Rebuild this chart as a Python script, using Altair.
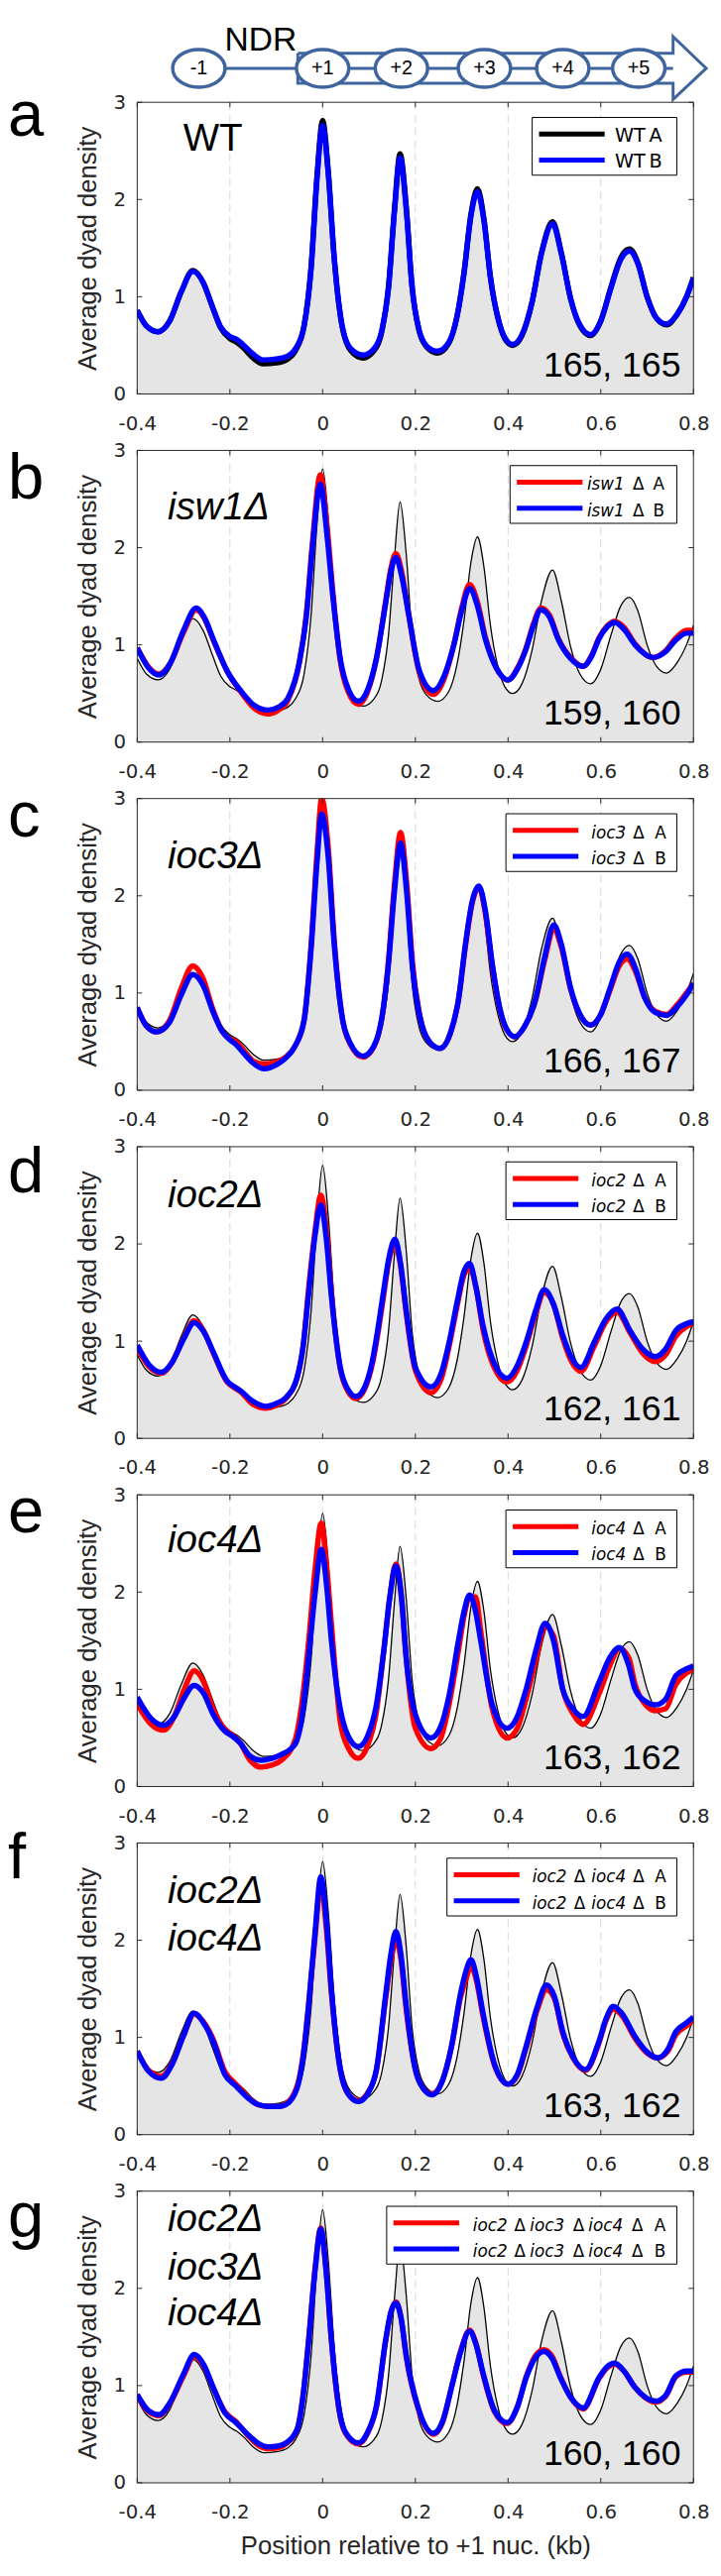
import altair as alt
import pandas as pd

# ---------------- data ----------------
X_TICKS = [-0.4, -0.2, 0, 0.2, 0.4, 0.6, 0.8]
Y_TICKS = [0, 1, 2, 3]
GRID_X = [-0.2, 0, 0.2, 0.4, 0.6]

NUC_LABELS = ["-1", "+1", "+2", "+3", "+4", "+5"]
NUC_POS = [-0.267, 0.0, 0.170, 0.349, 0.518, 0.682]

WT_X = [-0.400, -0.380, -0.355, -0.330, -0.305, -0.280, -0.258, -0.238, -0.220, -0.200,
        -0.185, -0.170, -0.150, -0.128, -0.100, -0.075, -0.058, -0.040, -0.025, -0.012,
        0.000, 0.012, 0.025, 0.040, 0.060, 0.087, 0.110, 0.128, 0.142, 0.155,
        0.167, 0.180, 0.193, 0.208, 0.225, 0.248, 0.272, 0.290, 0.305, 0.320,
        0.334, 0.348, 0.362, 0.378, 0.393, 0.410, 0.430, 0.452, 0.472, 0.496,
        0.515, 0.535, 0.555, 0.578, 0.600, 0.622, 0.643, 0.662, 0.680, 0.700,
        0.720, 0.742, 0.765, 0.785, 0.800]
WT_A = [0.86, 0.70, 0.64, 0.75, 1.05, 1.27, 1.15, 0.90, 0.68, 0.57,
        0.53, 0.47, 0.37, 0.31, 0.32, 0.36, 0.45, 0.70, 1.30, 2.25,
        2.81, 2.30, 1.40, 0.75, 0.45, 0.37, 0.44, 0.65, 1.10, 1.90,
        2.47, 1.95, 1.10, 0.65, 0.48, 0.42, 0.52, 0.80, 1.25, 1.85,
        2.11, 1.80, 1.20, 0.78, 0.57, 0.50, 0.60, 0.95, 1.45, 1.77,
        1.45, 0.98, 0.70, 0.60, 0.75, 1.10, 1.40, 1.49, 1.35, 1.00,
        0.78, 0.71, 0.82, 1.00, 1.20]
WT_B = [0.86, 0.70, 0.64, 0.75, 1.05, 1.26, 1.15, 0.90, 0.69, 0.59,
        0.56, 0.50, 0.41, 0.35, 0.36, 0.39, 0.47, 0.70, 1.28, 2.22,
        2.76, 2.27, 1.40, 0.76, 0.47, 0.40, 0.46, 0.66, 1.08, 1.88,
        2.43, 1.92, 1.10, 0.66, 0.49, 0.44, 0.53, 0.80, 1.24, 1.83,
        2.08, 1.78, 1.20, 0.79, 0.58, 0.51, 0.61, 0.95, 1.44, 1.75,
        1.44, 0.98, 0.71, 0.61, 0.75, 1.09, 1.38, 1.47, 1.34, 1.00,
        0.78, 0.72, 0.82, 1.00, 1.19]

ISW1_X = [-0.400, -0.375, -0.353, -0.330, -0.300, -0.273, -0.255, -0.236, -0.206, -0.177,
          -0.148, -0.118, -0.095, -0.075, -0.050, -0.035, -0.022, -0.005, 0.010, 0.022,
          0.038, 0.055, 0.077, 0.098, 0.116, 0.136, 0.147, 0.158, 0.170, 0.185,
          0.209, 0.239, 0.262, 0.283, 0.300, 0.317, 0.334, 0.351, 0.375, 0.400,
          0.420, 0.439, 0.455, 0.471, 0.490, 0.508, 0.535, 0.562, 0.580, 0.596,
          0.613, 0.630, 0.650, 0.674, 0.713, 0.740, 0.762, 0.785, 0.800]
ISW1_A = [0.97, 0.77, 0.70, 0.80, 1.13, 1.36, 1.27, 1.05, 0.73, 0.52,
          0.35, 0.29, 0.33, 0.43, 0.82, 1.32, 2.05, 2.75, 2.20, 1.55,
          0.84, 0.52, 0.39, 0.53, 0.86, 1.45, 1.78, 1.94, 1.76, 1.33,
          0.71, 0.49, 0.65, 1.00, 1.38, 1.62, 1.44, 1.08, 0.76, 0.64,
          0.76, 0.97, 1.22, 1.38, 1.30, 1.07, 0.87, 0.78, 0.89, 1.07,
          1.19, 1.24, 1.18, 1.01, 0.87, 0.94, 1.07, 1.15, 1.15]
ISW1_B = [0.97, 0.76, 0.69, 0.80, 1.15, 1.38, 1.28, 1.06, 0.73, 0.53,
          0.38, 0.33, 0.36, 0.45, 0.83, 1.30, 2.00, 2.65, 2.10, 1.50,
          0.86, 0.55, 0.42, 0.55, 0.86, 1.43, 1.75, 1.90, 1.72, 1.33,
          0.73, 0.53, 0.68, 1.00, 1.35, 1.58, 1.40, 1.06, 0.76, 0.64,
          0.75, 0.96, 1.20, 1.36, 1.28, 1.06, 0.86, 0.78, 0.88, 1.06,
          1.18, 1.23, 1.16, 1.00, 0.87, 0.93, 1.05, 1.12, 1.12]

IOC3_X = [-0.400, -0.380, -0.358, -0.330, -0.305, -0.280, -0.258, -0.236, -0.216, -0.200,
          -0.187, -0.170, -0.150, -0.126, -0.100, -0.080, -0.060, -0.040, -0.025, -0.012,
          -0.002, 0.012, 0.025, 0.040, 0.060, 0.087, 0.110, 0.128, 0.142, 0.155,
          0.168, 0.181, 0.194, 0.210, 0.230, 0.253, 0.275, 0.293, 0.308, 0.323,
          0.337, 0.351, 0.366, 0.381, 0.397, 0.415, 0.435, 0.459, 0.478, 0.499,
          0.515, 0.535, 0.555, 0.578, 0.600, 0.620, 0.640, 0.657, 0.675, 0.695,
          0.718, 0.742, 0.765, 0.785, 0.800]
IOC3_A = [0.85, 0.66, 0.60, 0.72, 1.05, 1.28, 1.15, 0.82, 0.60, 0.53,
          0.50, 0.41, 0.30, 0.27, 0.29, 0.34, 0.45, 0.72, 1.48, 2.45,
          3.00, 2.50, 1.55, 0.82, 0.47, 0.34, 0.44, 0.75, 1.33, 2.12,
          2.65, 2.15, 1.30, 0.76, 0.50, 0.43, 0.58, 0.93, 1.48, 1.93,
          2.09, 1.82, 1.28, 0.86, 0.62, 0.55, 0.65, 0.92, 1.32, 1.65,
          1.47, 1.04, 0.78, 0.67, 0.78, 1.03, 1.28, 1.35, 1.22, 0.95,
          0.81, 0.78, 0.88, 1.00, 1.10]
IOC3_B = [0.85, 0.66, 0.60, 0.70, 0.98, 1.19, 1.08, 0.80, 0.60, 0.52,
          0.47, 0.38, 0.28, 0.22, 0.26, 0.33, 0.45, 0.72, 1.45, 2.35,
          2.84, 2.40, 1.50, 0.82, 0.48, 0.35, 0.45, 0.75, 1.30, 2.05,
          2.54, 2.05, 1.25, 0.75, 0.50, 0.43, 0.58, 0.93, 1.50, 1.95,
          2.10, 1.85, 1.30, 0.87, 0.63, 0.55, 0.65, 0.93, 1.35, 1.70,
          1.50, 1.05, 0.78, 0.67, 0.78, 1.05, 1.32, 1.40, 1.25, 0.95,
          0.80, 0.77, 0.86, 0.98, 1.10]

IOC2_X = [-0.400, -0.375, -0.348, -0.325, -0.300, -0.277, -0.257, -0.236, -0.206, -0.190,
          -0.177, -0.153, -0.123, -0.100, -0.079, -0.055, -0.042, -0.030, -0.016, -0.004,
          0.008, 0.019, 0.038, 0.055, 0.072, 0.090, 0.107, 0.120, 0.131, 0.144,
          0.156, 0.168, 0.180, 0.200, 0.234, 0.255, 0.273, 0.290, 0.305, 0.317,
          0.331, 0.346, 0.371, 0.398, 0.420, 0.439, 0.460, 0.478, 0.498, 0.518,
          0.537, 0.557, 0.586, 0.610, 0.635, 0.664, 0.690, 0.718, 0.740, 0.762,
          0.785, 0.800]
IOC2_A = [0.93, 0.74, 0.67, 0.78, 1.03, 1.21, 1.11, 0.88, 0.58, 0.52,
          0.48, 0.36, 0.31, 0.34, 0.41, 0.62, 0.95, 1.55, 2.15, 2.50,
          2.15, 1.50, 0.72, 0.48, 0.41, 0.50, 0.76, 1.10, 1.45, 1.85,
          2.00, 1.78, 1.30, 0.70, 0.47, 0.60, 0.95, 1.36, 1.68, 1.76,
          1.55, 1.12, 0.72, 0.58, 0.70, 0.95, 1.29, 1.50, 1.38, 1.03,
          0.79, 0.69, 0.95, 1.19, 1.30, 1.08, 0.88, 0.79, 0.86, 1.05,
          1.15, 1.18]
IOC2_B = [0.96, 0.76, 0.68, 0.78, 1.02, 1.19, 1.10, 0.89, 0.59, 0.53,
          0.49, 0.39, 0.33, 0.36, 0.42, 0.63, 0.95, 1.50, 2.10, 2.40,
          2.05, 1.46, 0.73, 0.50, 0.43, 0.52, 0.79, 1.15, 1.50, 1.88,
          2.05, 1.80, 1.33, 0.73, 0.53, 0.66, 0.99, 1.40, 1.72, 1.80,
          1.55, 1.16, 0.76, 0.62, 0.75, 0.99, 1.32, 1.53, 1.38, 1.06,
          0.83, 0.73, 0.99, 1.22, 1.33, 1.10, 0.92, 0.84, 0.92, 1.11,
          1.18, 1.20]

IOC4_X = [-0.400, -0.370, -0.343, -0.320, -0.300, -0.277, -0.257, -0.236, -0.211, -0.195,
          -0.178, -0.158, -0.133, -0.110, -0.089, -0.060, -0.045, -0.030, -0.016, -0.003,
          0.009, 0.019, 0.038, 0.055, 0.077, 0.097, 0.116, 0.132, 0.145, 0.158,
          0.170, 0.180, 0.200, 0.234, 0.255, 0.273, 0.293, 0.305, 0.317, 0.330,
          0.341, 0.366, 0.398, 0.420, 0.439, 0.460, 0.480, 0.498, 0.518, 0.540,
          0.562, 0.596, 0.620, 0.640, 0.660, 0.674, 0.695, 0.718, 0.740, 0.762,
          0.785, 0.800]
IOC4_A = [0.85, 0.64, 0.58, 0.72, 0.98, 1.19, 1.08, 0.80, 0.59, 0.53,
          0.45, 0.28, 0.20, 0.22, 0.27, 0.47, 0.85, 1.50, 2.25, 2.71,
          2.25, 1.67, 0.67, 0.40, 0.29, 0.42, 0.77, 1.40, 1.95, 2.29,
          1.95, 1.34, 0.60, 0.39, 0.50, 0.85, 1.40, 1.75, 1.95, 1.95,
          1.60, 0.80, 0.50, 0.60, 0.90, 1.30, 1.65, 1.55, 1.00, 0.75,
          0.64, 0.95, 1.25, 1.42, 1.33, 1.05, 0.85, 0.78, 0.80, 1.05,
          1.17, 1.20]
IOC4_B = [0.92, 0.70, 0.63, 0.72, 0.90, 1.04, 0.96, 0.74, 0.57, 0.52,
          0.45, 0.32, 0.27, 0.29, 0.33, 0.43, 0.70, 1.34, 2.00, 2.44,
          2.05, 1.50, 0.80, 0.52, 0.41, 0.52, 0.84, 1.40, 1.95, 2.27,
          1.95, 1.34, 0.74, 0.50, 0.62, 0.94, 1.50, 1.80, 1.97, 1.80,
          1.50, 0.84, 0.60, 0.72, 1.00, 1.40, 1.68, 1.50, 1.00, 0.80,
          0.72, 1.07, 1.33, 1.43, 1.25, 1.00, 0.88, 0.84, 0.90, 1.14,
          1.21, 1.24]

IOC24_X = [-0.400, -0.375, -0.348, -0.325, -0.300, -0.277, -0.257, -0.236, -0.211, -0.187,
           -0.162, -0.140, -0.118, -0.095, -0.079, -0.055, -0.042, -0.030, -0.016, -0.004,
           0.008, 0.019, 0.038, 0.055, 0.077, 0.097, 0.116, 0.136, 0.147, 0.158,
           0.169, 0.180, 0.200, 0.218, 0.236, 0.258, 0.278, 0.297, 0.309, 0.320,
           0.332, 0.346, 0.371, 0.400, 0.420, 0.439, 0.462, 0.483, 0.500, 0.518,
           0.540, 0.567, 0.596, 0.612, 0.627, 0.645, 0.674, 0.700, 0.723, 0.745,
           0.762, 0.785, 0.800]
IOC24_A = [0.86, 0.66, 0.60, 0.73, 1.02, 1.24, 1.16, 0.98, 0.65, 0.52,
           0.39, 0.31, 0.29, 0.29, 0.32, 0.50, 0.82, 1.35, 2.05, 2.58,
           2.12, 1.45, 0.67, 0.42, 0.35, 0.43, 0.66, 1.40, 1.78, 2.00,
           1.80, 1.30, 0.67, 0.47, 0.42, 0.55, 0.90, 1.40, 1.60, 1.73,
           1.58, 1.22, 0.71, 0.52, 0.61, 0.89, 1.27, 1.49, 1.40, 1.04,
           0.79, 0.66, 0.94, 1.18, 1.29, 1.23, 0.99, 0.84, 0.79, 0.86,
           1.03, 1.12, 1.18]
IOC24_B = [0.86, 0.65, 0.58, 0.72, 1.02, 1.25, 1.15, 0.96, 0.62, 0.50,
           0.38, 0.31, 0.29, 0.29, 0.31, 0.48, 0.80, 1.34, 2.10, 2.65,
           2.20, 1.49, 0.67, 0.42, 0.34, 0.42, 0.67, 1.44, 1.85, 2.09,
           1.85, 1.34, 0.67, 0.47, 0.41, 0.55, 0.91, 1.44, 1.68, 1.80,
           1.62, 1.25, 0.72, 0.52, 0.62, 0.91, 1.30, 1.54, 1.42, 1.06,
           0.80, 0.67, 0.96, 1.20, 1.32, 1.25, 1.01, 0.85, 0.79, 0.88,
           1.06, 1.15, 1.21]

IOC234_X = [-0.400, -0.375, -0.353, -0.330, -0.300, -0.277, -0.257, -0.236, -0.211, -0.187,
            -0.162, -0.140, -0.118, -0.095, -0.079, -0.055, -0.042, -0.030, -0.016, -0.004,
            0.008, 0.019, 0.038, 0.055, 0.077, 0.097, 0.116, 0.136, 0.147, 0.158,
            0.169, 0.180, 0.205, 0.239, 0.260, 0.278, 0.298, 0.317, 0.331, 0.346,
            0.371, 0.398, 0.420, 0.439, 0.458, 0.477, 0.495, 0.513, 0.535, 0.562,
            0.596, 0.613, 0.630, 0.650, 0.674, 0.718, 0.740, 0.762, 0.785, 0.800]
IOC234_A = [0.90, 0.73, 0.69, 0.81, 1.10, 1.30, 1.21, 0.98, 0.73, 0.63,
            0.49, 0.39, 0.35, 0.36, 0.40, 0.55, 0.91, 1.48, 2.22, 2.62,
            2.16, 1.46, 0.68, 0.47, 0.40, 0.51, 0.78, 1.46, 1.75, 1.86,
            1.70, 1.31, 0.78, 0.50, 0.64, 0.98, 1.36, 1.57, 1.43, 1.12,
            0.73, 0.61, 0.78, 1.09, 1.30, 1.37, 1.30, 1.09, 0.88, 0.76,
            1.07, 1.18, 1.22, 1.15, 0.98, 0.83, 0.89, 1.09, 1.14, 1.14]
IOC234_B = [0.91, 0.74, 0.70, 0.82, 1.12, 1.32, 1.22, 0.98, 0.72, 0.62,
            0.50, 0.41, 0.37, 0.38, 0.41, 0.55, 0.90, 1.47, 2.20, 2.61,
            2.15, 1.47, 0.69, 0.48, 0.41, 0.52, 0.79, 1.47, 1.75, 1.85,
            1.70, 1.32, 0.79, 0.51, 0.65, 0.98, 1.35, 1.56, 1.42, 1.13,
            0.74, 0.62, 0.78, 1.08, 1.28, 1.35, 1.28, 1.08, 0.88, 0.77,
            1.08, 1.19, 1.23, 1.15, 0.98, 0.84, 0.90, 1.10, 1.15, 1.15]

LETTERS = ["a", "b", "c", "d", "e", "f", "g"]
GENOTYPES = [["WT"], ["isw1\u0394"], ["ioc3\u0394"], ["ioc2\u0394"], ["ioc4\u0394"],
             ["ioc2\u0394", "ioc4\u0394"], ["ioc2\u0394", "ioc3\u0394", "ioc4\u0394"]]
COUNTS = ["165, 165", "159, 160", "166, 167", "162, 161", "163, 162", "163, 162", "160, 160"]
# legend label tokens: (text, italic); the replicate letter is appended
LEGEND_TOKENS = [
    [("WT", False)],
    [("isw1", True), ("\u0394", False)],
    [("ioc3", True), ("\u0394", False)],
    [("ioc2", True), ("\u0394", False)],
    [("ioc4", True), ("\u0394", False)],
    [("ioc2", True), ("\u0394", False), ("ioc4", True), ("\u0394", False)],
    [("ioc2", True), ("\u0394", False), ("ioc3", True), ("\u0394", False), ("ioc4", True), ("\u0394", False)],
]
REPLICATES = ["A", "B"]
SERIES = [(WT_X, WT_A, WT_B), (ISW1_X, ISW1_A, ISW1_B), (IOC3_X, IOC3_A, IOC3_B),
          (IOC2_X, IOC2_A, IOC2_B), (IOC4_X, IOC4_A, IOC4_B), (IOC24_X, IOC24_A, IOC24_B),
          (IOC234_X, IOC234_A, IOC234_B)]
X_TITLE = "Position relative to +1 nuc. (kb)"
Y_TITLE = "Average dyad density"

# ---------------- layout / style ----------------
FONT = "Liberation Sans"
TFONT = "DejaVu Sans"
INK = "#262626"
GRAY = "#e5e5e5"
RED, BLUE = "#ff0000", "#0000ff"
DBLUE = "#3f649e"
W, H = 568, 298
SPACING = 57.7
TICK = 5
LETTER_Y = [34, 49, 39, 47, 38, 36, 47]
GENO_Y = [[49], [70], [71], [62], [59], [61, 110], [41, 90, 137]]
LEG_LEFT = [403.3, 380.7, 376.5, 376.5, 376.5, 316.3, 254.7]
LEG_TEXT_X = [[487.7, 522.7], [459.3, 506, 526.7], [463.7, 506.3, 528.6], [463.7, 506.3, 528.6],
              [463.7, 506.3, 528.6], [403.4, 446, 463.7, 506.3, 528.6],
              [342.7, 385, 401, 445, 460.7, 505, 528]]
LEG_FONT = [19.5, 17, 17, 17, 17, 17, 17]
LEG_RIGHT, LEG_TOP, LEG_BOT = 551, 15.5, 74.5
LEG_ROWS = [32.5, 59]
# diagram geometry (kb along x, px from diagram top along y)
ROW = 45.3
HEAD_BASE, HEAD_TIP, BODY_LEFT = 0.756, 0.8275, -0.0535
ARROW_X = [BODY_LEFT, HEAD_BASE, HEAD_BASE, HEAD_TIP, HEAD_BASE, HEAD_BASE, BODY_LEFT, BODY_LEFT]
ARROW_Y = [30, 30, 13, 45.3, 77, 60.5, 60.5, 30]
ELLIPSE = "M -1 0 A 1 0.72 0 1 1 1 0 A 1 0.72 0 1 1 -1 0 Z"

XS = alt.Scale(domain=[-0.4, 0.8], nice=False, zero=False)
YS = alt.Scale(domain=[0, 3], nice=False, zero=False)
XLBL = ("datum.value == 0 ? '0' : (datum.value < 0 ? '-' + format(-datum.value, '.1f') "
        ": format(datum.value, '.1f'))")
ONE = pd.DataFrame({"k": [0]})


def txt(s, x, y, size, italic=False, align="left", font=FONT):
    kw = dict(text=s, fontSize=size, font=font, align=align, baseline="alphabetic", color="black")
    if italic:
        kw["fontStyle"] = "italic"
    return alt.Chart(ONE).mark_text(**kw).encode(x=alt.value(x), y=alt.value(y))


def panel(i):
    last = i == len(LETTERS) - 1
    if last:
        ax_x = alt.Axis(values=X_TICKS, labelExpr=XLBL, labelPadding=20, title=X_TITLE, titlePadding=11)
    else:
        ax_x = alt.Axis(values=X_TICKS, labelExpr=XLBL, labelPadding=20, title=None)
    ax_y = alt.Axis(values=Y_TICKS, format="d", labelPadding=12, title=Y_TITLE, titlePadding=13)

    def X(f):
        return alt.X(f"{f}:Q", scale=XS, axis=ax_x)

    def Y(f):
        return alt.Y(f"{f}:Q", scale=YS, axis=ax_y)

    xs, ya, yb = SERIES[i]
    col_a = "black" if i == 0 else RED
    wt = pd.DataFrame({"x": WT_X, "y": WT_A})
    da = pd.DataFrame({"x": xs, "y": ya})
    db = pd.DataFrame({"x": xs, "y": yb})

    L = []
    L.append(alt.Chart(pd.DataFrame({"g": GRID_X})).mark_rule(
        color="#d6d6d6", strokeWidth=1, strokeDash=[8, 5]).encode(
        x=X("g"), y=alt.value(0), y2=alt.value(H)))
    L.append(alt.Chart(wt).mark_area(color=GRAY, interpolate="monotone", clip=True).encode(
        x=X("x"), y=Y("y")))
    if i > 0:
        L.append(alt.Chart(wt).mark_line(color="black", strokeWidth=1.3, interpolate="monotone",
                                         clip=True).encode(x=X("x"), y=Y("y")))
    L.append(alt.Chart(da).mark_line(color=col_a, strokeWidth=5.5, interpolate="monotone",
                                     clip=True).encode(x=X("x"), y=Y("y")))
    L.append(alt.Chart(db).mark_line(color=BLUE, strokeWidth=5.5, interpolate="monotone",
                                     clip=True).encode(x=X("x"), y=Y("y")))
    # frame and inward ticks
    L.append(alt.Chart(ONE).mark_rect(fill="white", fillOpacity=0, stroke=INK, strokeWidth=1).encode(
        x=alt.value(0), x2=alt.value(W), y=alt.value(0), y2=alt.value(H)))
    xt = pd.DataFrame({"t": X_TICKS})
    yt = pd.DataFrame({"t": Y_TICKS})
    L.append(alt.Chart(xt).mark_rule(color=INK, strokeWidth=1).encode(
        x=X("t"), y=alt.value(0), y2=alt.value(TICK)))
    L.append(alt.Chart(xt).mark_rule(color=INK, strokeWidth=1).encode(
        x=X("t"), y=alt.value(H - TICK), y2=alt.value(H)))
    L.append(alt.Chart(yt).mark_rule(color=INK, strokeWidth=1).encode(
        y=Y("t"), x=alt.value(0), x2=alt.value(TICK)))
    L.append(alt.Chart(yt).mark_rule(color=INK, strokeWidth=1).encode(
        y=Y("t"), x=alt.value(W - TICK), x2=alt.value(W)))
    # legend
    bl = LEG_LEFT[i]
    L.append(alt.Chart(ONE).mark_rect(fill="white", stroke="black", strokeWidth=1).encode(
        x=alt.value(bl), x2=alt.value(LEG_RIGHT), y=alt.value(LEG_TOP), y2=alt.value(LEG_BOT)))
    for r, (rep, col) in enumerate(zip(REPLICATES, [col_a, BLUE])):
        ry = LEG_ROWS[r]
        L.append(alt.Chart(ONE).mark_rule(color=col, strokeWidth=5).encode(
            x=alt.value(bl + 7), x2=alt.value(bl + 74), y=alt.value(ry)))
        tokens = LEGEND_TOKENS[i] + [(rep, False)]
        for (t, it), tx in zip(tokens, LEG_TEXT_X[i]):
            L.append(txt(t, tx, ry + 8, LEG_FONT[i], italic=it, font=TFONT))
    # annotations
    L.append(txt(LETTERS[i], -132, LETTER_Y[i], 66))
    gx = 47 if i == 0 else 31
    for line, gy in zip(GENOTYPES[i], GENO_Y[i]):
        L.append(txt(line, gx, gy, 39, italic=(i > 0)))
    L.append(txt(COUNTS[i], W - 13, H - 18, 36, align="right"))
    return alt.layer(*L).properties(width=W, height=H)


def diagram():
    def X(f):
        return alt.X(f"{f}:Q", scale=XS, axis=None)

    nuc = pd.DataFrame({"x": NUC_POS, "lab": NUC_LABELS})
    line = alt.Chart(pd.DataFrame({"x": [NUC_POS[0]], "x2": [HEAD_BASE]})).mark_rule(
        color=DBLUE, strokeWidth=3).encode(x=X("x"), x2=alt.X2("x2"), y=alt.value(ROW))
    arrow = alt.Chart(pd.DataFrame({"ax": ARROW_X, "ay": ARROW_Y, "o": list(range(len(ARROW_X)))})).mark_line(
        color=DBLUE, strokeWidth=3, strokeJoin="miter").encode(
        x=X("ax"), y=alt.Y("ay:Q", scale=None), order="o:Q")
    ell = alt.Chart(nuc).mark_point(shape=ELLIPSE, size=2862, filled=True, fill="white",
                                    stroke=DBLUE, strokeWidth=3.5, opacity=1).encode(
        x=X("x"), y=alt.value(ROW))
    labs = alt.Chart(nuc).mark_text(font=FONT, fontSize=20, align="center", baseline="middle",
                                    color="black").encode(x=X("x"), y=alt.value(ROW), text="lab:N")
    ndr = alt.Chart(pd.DataFrame({"x": [(NUC_POS[0] + NUC_POS[1]) / 2], "t": ["NDR"]})).mark_text(
        font=FONT, fontSize=34, align="center", baseline="alphabetic", color="black").encode(
        x=X("x"), y=alt.value(27), text="t:N")
    return alt.layer(line, arrow, ell, labs, ndr).properties(width=W, height=79.3)


inner = alt.vconcat(*[panel(i) for i in range(len(LETTERS))], spacing=SPACING, bounds="flush")
chart = alt.vconcat(diagram(), inner, spacing=0, bounds="flush").properties(
    padding=0, background="white"
).configure_axis(
    labelFont=TFONT, titleFont=FONT, labelFontSize=20, titleFontSize=26,
    labelColor=INK, titleColor=INK, titleFontWeight="normal",
    domain=False, ticks=False, tickSize=0, grid=False, labelFlush=False, labelOverlap=False
).configure_view(strokeWidth=0)

chart.save("out.html", embed_options={"renderer": "svg", "actions": False})
